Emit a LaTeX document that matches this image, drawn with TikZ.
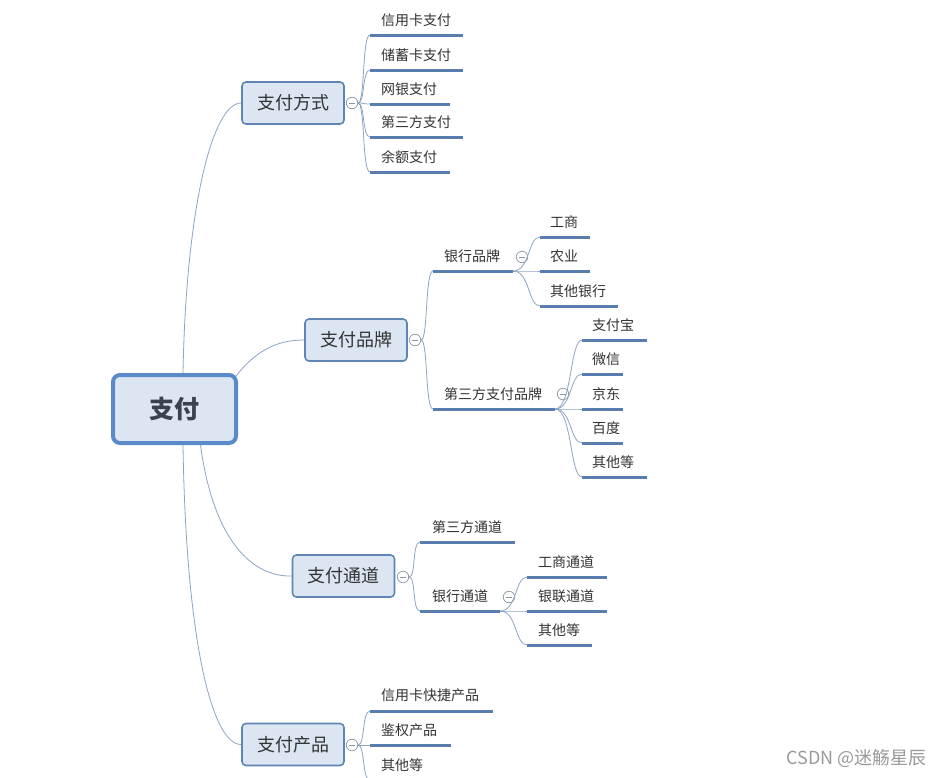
\documentclass[tikz,border=0pt]{standalone}
\usepackage{fontspec}
\setmainfont{Noto Sans CJK SC}
\definecolor{boxfill}{HTML}{DCE6F2}
\definecolor{rootedge}{HTML}{5B8ACB}
\definecolor{boxedge}{HTML}{5F85B5}
\definecolor{ulinec}{HTML}{5A7DB0}
\definecolor{branchc}{HTML}{8DA5C3}
\definecolor{circc}{HTML}{8A96A3}
\definecolor{txt}{HTML}{333333}
\definecolor{roottxt}{HTML}{3A4250}
\definecolor{wm}{HTML}{9A9A9A}
\newcommand\brc[2]{\draw[branch] (#1) .. controls ([xshift=7pt]#1) and ([xshift=-8pt]#2) .. (#2);}
\newcommand\leaf[5]{%
  \coordinate (#1-s) at (#2,#4);
  \coordinate (#1-e) at (#3,#4);
  \draw[uline] (#1-s) -- (#1-e);
}
\begin{document}
\begin{tikzpicture}[x=1pt,y=-1pt,
  rootbox/.style={draw=rootedge,line width=4pt,fill=boxfill,rounded corners=7pt,minimum width=123pt,minimum height=68pt,inner sep=0pt,font=\fontsize{25}{25}\selectfont\bfseries,text=roottxt},
  mainbox/.style={draw=boxedge,line width=1.6pt,fill=boxfill,rounded corners=4pt,minimum width=102pt,minimum height=42pt,inner sep=0pt,font=\fontsize{18}{18}\selectfont,text=txt},
  leaftext/.style={anchor=west,inner sep=0pt,font=\fontsize{14}{14}\selectfont,text=txt},
  uline/.style={draw=ulinec,line width=3pt},
  branch/.style={draw=branchc,line width=0.8pt},
  collapse/.style={circle,draw=circc,line width=0.7pt,fill=white,minimum size=11.5pt,inner sep=0pt,
    path picture={\draw[circc,line width=0.7pt] ([xshift=-3pt]path picture bounding box.center)--([xshift=3pt]path picture bounding box.center);}},
]
\useasboundingbox[fill=white] (0,0) rectangle (940,777);

% root and main topics
\node[rootbox] (root) at (174.5,409) {支付};
\node[mainbox] (m1) at (293,103) {支付方式};
\node[mainbox] (m2) at (356,340) {支付品牌};
\node[mainbox] (m3) at (343.5,576) {支付通道};
\node[mainbox] (m4) at (293,744.5) {支付产品};

% root connectors
\draw[branch] ([xshift=8.5pt]root.north) .. controls (186,210) and (212,103) .. (m1.west);
\draw[branch] ([shift={(-2,3)}]root.north east) .. controls (258,348) and (280,340) .. (m2.west);
\draw[branch] ([xshift=26pt]root.south) .. controls (214,545) and (255,577) .. (m3.west);
\draw[branch] ([xshift=8.5pt]root.south) .. controls (186,640) and (212,745) .. (m4.west);

% 支付方式
\node[collapse] (c1) at (352,103) {};
\leaf{a1}{370}{463}{35}{}
\leaf{a2}{370}{463}{70}{}
\leaf{a3}{370}{450}{104}{}
\leaf{a4}{370}{463}{137}{}
\leaf{a5}{370}{450}{172}{}
\node[leaftext] (ta1) at (381,20) {信用卡支付};
\node[leaftext] (ta2) at (381,55) {储蓄卡支付};
\node[leaftext] (ta3) at (381,89) {网银支付};
\node[leaftext] (ta4) at (381,122) {第三方支付};
\node[leaftext] (ta5) at (381,157) {余额支付};
\foreach \n in {a1,a2,a3,a4,a5}{\brc{c1.east}{\n-s}}

% 支付品牌
\node[collapse] (c2) at (415,340) {};
\leaf{b1}{433}{513}{271}{}
\leaf{b2}{433}{555}{409}{}
\node[leaftext] (tb1) at (444,256) {银行品牌};
\node[leaftext] (tb2) at (444,394) {第三方支付品牌};
\brc{c2.east}{b1-s}
\brc{c2.east}{b2-s}
\node[collapse] (c2a) at (522,257) {};
\node[collapse] (c2b) at (563,394) {};
% 银行品牌 children
\leaf{b11}{540}{590}{237}{}
\leaf{b12}{540}{590}{271}{}
\leaf{b13}{540}{618}{306}{}
\node[leaftext] (tb11) at (550,222) {工商};
\node[leaftext] (tb12) at (550,256) {农业};
\node[leaftext] (tb13) at (550,291) {其他银行};
\foreach \n in {b11,b12,b13}{\draw[branch] (b1-e) .. controls (530,271) and (528,0|-\n-s) .. (\n-s);}
% 第三方支付品牌 children
\leaf{b21}{582}{647}{340}{}
\leaf{b22}{582}{623}{374}{}
\leaf{b23}{582}{623}{409}{}
\leaf{b24}{582}{623}{443}{}
\leaf{b25}{582}{647}{477}{}
\node[leaftext] (tb21) at (592,325) {支付宝};
\node[leaftext] (tb22) at (592,359) {微信};
\node[leaftext] (tb23) at (592,394) {京东};
\node[leaftext] (tb24) at (592,428) {百度};
\node[leaftext] (tb25) at (592,462) {其他等};
\foreach \n in {b21,b22,b23,b24,b25}{\draw[branch] (b2-e) .. controls (572,409) and (570,0|-\n-s) .. (\n-s);}

% 支付通道
\node[collapse] (c3) at (403,577) {};
\leaf{d1}{420}{515}{542}{}
\leaf{d2}{420}{500}{611}{}
\node[leaftext] (td1) at (432,527) {第三方通道};
\node[leaftext] (td2) at (432,596) {银行通道};
\brc{c3.east}{d1-s}
\brc{c3.east}{d2-s}
\node[collapse] (c3b) at (509,597) {};
\leaf{d21}{527}{607}{577}{}
\leaf{d22}{527}{607}{611}{}
\leaf{d23}{527}{592}{645}{}
\node[leaftext] (td21) at (538,562) {工商通道};
\node[leaftext] (td22) at (538,596) {银联通道};
\node[leaftext] (td23) at (538,630) {其他等};
\foreach \n in {d21,d22,d23}{\draw[branch] (d2-e) .. controls (517,611) and (515,0|-\n-s) .. (\n-s);}

% 支付产品
\node[collapse] (c4) at (352,745) {};
\leaf{e1}{370}{493}{711}{}
\leaf{e2}{370}{451}{745}{}
\leaf{e3}{370}{451}{780}{}
\node[leaftext] (te1) at (381,695) {信用卡快捷产品};
\node[leaftext] (te2) at (381,730) {鉴权产品};
\node[leaftext] (te3) at (381,765) {其他等};
\foreach \n in {e1,e2,e3}{\brc{c4.east}{\n-s}}

% watermark
\node[anchor=east,inner sep=0pt,text=wm,font=\fontsize{18}{18}\selectfont] (wmk) at (927,758) {CSDN @迷觞星辰};
\end{tikzpicture}
\end{document}
